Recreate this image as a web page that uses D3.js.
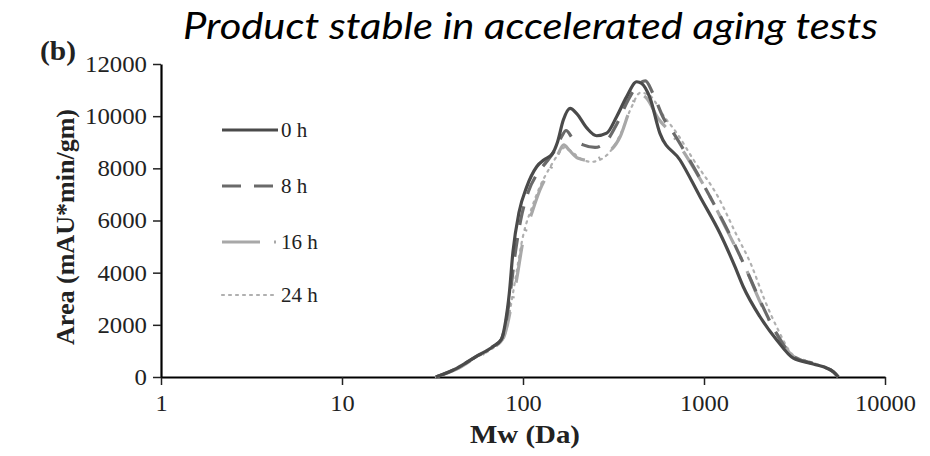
<!DOCTYPE html>
<html><head><meta charset="utf-8">
<script src="https://cdn.jsdelivr.net/npm/d3@7"></script>
<style>
body{margin:0;background:#fff;}
svg{display:block;}
</style></head>
<body><svg id="c" width="930" height="456"></svg>
<script>
// ---- data ----
const seriesNames = ["0 h", "8 h", "16 h", "24 h"];
const xTickValues = [1, 10, 100, 1000, 10000];
const yTickValues = [0, 2000, 4000, 6000, 8000, 10000, 12000];
const series0h = [[33,0],[43,330],[55,780],[68,1160],[76,1450],[80,2100],[84,3200],[88,4800],[95,6300],[105,7300],[119,8060],[132,8350],[145,8550],[155,9000],[167,9850],[182,10300],[198,10100],[225,9550],[255,9250],[290,9350],[329,9980],[374,10750],[425,11320],[453,11250],[503,10700],[571,9340],[737,8320],[951,6910],[1225,5510],[1483,4230],[1648,3460],[2039,2310],[2522,1420],[3115,720],[4018,500],[5178,200],[5520,0]];
const series8h = [[33,0],[43,330],[55,780],[68,1160],[76,1450],[80,2000],[85,3200],[90,4600],[97,6000],[107,7100],[120,7800],[135,8250],[150,8700],[163,9200],[173,9450],[188,9150],[215,8900],[250,8800],[290,9050],[330,9700],[380,10600],[430,11200],[475,11350],[520,10900],[600,9900],[680,9340],[820,8400],[1080,6910],[1380,5500],[1685,4230],[2050,2900],[2500,1700],[3100,800],[4018,510],[5178,200],[5520,0]];
const series16h = [[33,0],[43,300],[55,750],[68,1100],[78,1500],[82,2000],[86,2700],[92,3700],[100,5200],[112,6300],[124,7170],[140,7900],[155,8500],[168,8900],[180,8700],[200,8400],[235,8300],[280,8500],[344,9210],[390,10240],[440,10850],[480,10700],[560,9900],[660,9340],[810,8400],[1080,6910],[1380,5450],[1685,4230],[2050,2850],[2500,1700],[3100,800],[4018,520],[5178,200],[5520,0]];
const series24h = [[33,0],[43,300],[55,750],[68,1100],[78,1500],[82,2000],[86,2800],[92,4000],[100,5400],[112,6500],[124,7300],[140,8000],[155,8500],[170,8800],[185,8650],[210,8350],[240,8250],[290,8500],[345,9300],[395,10300],[445,10900],[500,10800],[600,10000],[709,9340],[880,8300],[1195,6910],[1500,5500],[1842,4230],[2150,3000],[2550,1850],[3100,850],[4018,540],[5178,210],[5520,0]];
const allSeries = [series0h, series8h, series16h, series24h];

// ---- styles ----
const styles = [
  {stroke:"#4a4a4a", width:3.2, dash:null},
  {stroke:"#6a6a6a", width:3.2, dash:"19,13"},
  {stroke:"#a8a8a8", width:3.2, dash:"38,14,2,14"},
  {stroke:"#b0b0b0", width:2.2, dash:"2,5"}
];

const svg = d3.select("#c");
const x = d3.scaleLog().domain([1,10000]).range([161,885]);
const y = d3.scaleLinear().domain([0,12000]).range([377,64]);
const serif = "'Liberation Serif','Times New Roman',serif";

// title
svg.append("text").attr("x",183).attr("y",39)
  .attr("font-family","Lato,'Open Sans',sans-serif").attr("font-style","italic")
  .attr("font-size",36).attr("fill","#000")
  .attr("textLength",695).attr("lengthAdjust","spacingAndGlyphs")
  .text("Product stable in accelerated aging tests");

svg.append("text").attr("x",40).attr("y",60).attr("font-family",serif)
  .attr("font-weight","bold").attr("font-size",28).attr("fill","#222")
  .attr("textLength",36).attr("lengthAdjust","spacingAndGlyphs").text("(b)");

// axes
const xAxis = d3.axisBottom(x).tickValues(xTickValues).tickFormat(d3.format("d")).tickSizeInner(8).tickSizeOuter(0).tickPadding(10);
const gx = svg.append("g").attr("transform","translate(0,377)").call(xAxis);
const yAxis = d3.axisLeft(y).tickValues(yTickValues).tickFormat(d3.format("d")).tickSizeInner(8).tickSizeOuter(0).tickPadding(6);
const gy = svg.append("g").attr("transform","translate(161,0)").call(yAxis);
[gx,gy].forEach(g=>{
  g.selectAll(".domain").attr("stroke","#000").attr("stroke-width",2.2);
  g.selectAll(".tick line").attr("stroke","#222").attr("stroke-width",1.5);
  g.selectAll(".tick text").attr("font-family",serif).attr("font-size",23).attr("fill","#222")
    .attr("transform","scale(1,1)");
});
gx.selectAll(".tick text").each(function(d){ const n=String(d).length; d3.select(this).attr("textLength", n*12.2).attr("lengthAdjust","spacingAndGlyphs"); });
gy.selectAll(".tick text").each(function(d){ const n=String(d).length; d3.select(this).attr("textLength", n*12.4).attr("lengthAdjust","spacingAndGlyphs"); });

svg.append("text").attr("x",525).attr("y",443).attr("text-anchor","middle")
  .attr("font-family",serif).attr("font-weight","bold").attr("font-size",26).attr("fill","#222")
  .attr("textLength",110).attr("lengthAdjust","spacingAndGlyphs").text("Mw (Da)");
svg.append("text").attr("transform","translate(74,227) rotate(-90)").attr("text-anchor","middle")
  .attr("font-family",serif).attr("font-weight","bold").attr("font-size",25).attr("fill","#222")
  .attr("textLength",236).attr("lengthAdjust","spacingAndGlyphs").text("Area (mAU*min/gm)");

// lines
const line = d3.line().x(d=>x(d[0])).y(d=>y(d[1])).curve(d3.curveMonotoneX);
const order = [3,2,1,0];
order.forEach(i=>{
  const s = styles[i];
  svg.append("path").datum(allSeries[i]).attr("d",line).attr("fill","none")
    .attr("stroke",s.stroke).attr("stroke-width",s.width)
    .attr("stroke-dasharray",s.dash).attr("stroke-linecap", i===3?"round":"butt")
    .attr("stroke-linejoin","round");
});

// legend
const legY = [130,186,242,295];
seriesNames.forEach((n,i)=>{
  const s = styles[i];
  svg.append("line").attr("x1",222).attr("x2",278).attr("y1",legY[i]).attr("y2",legY[i])
    .attr("stroke",s.stroke).attr("stroke-width",s.width).attr("stroke-dasharray",s.dash)
    .attr("stroke-linecap",i===3?"round":"butt");
  svg.append("text").attr("x",281).attr("y",legY[i]).attr("dy","0.35em")
    .attr("font-family",serif).attr("font-size",21).attr("fill","#222").text(n);
});
</script></body></html>
